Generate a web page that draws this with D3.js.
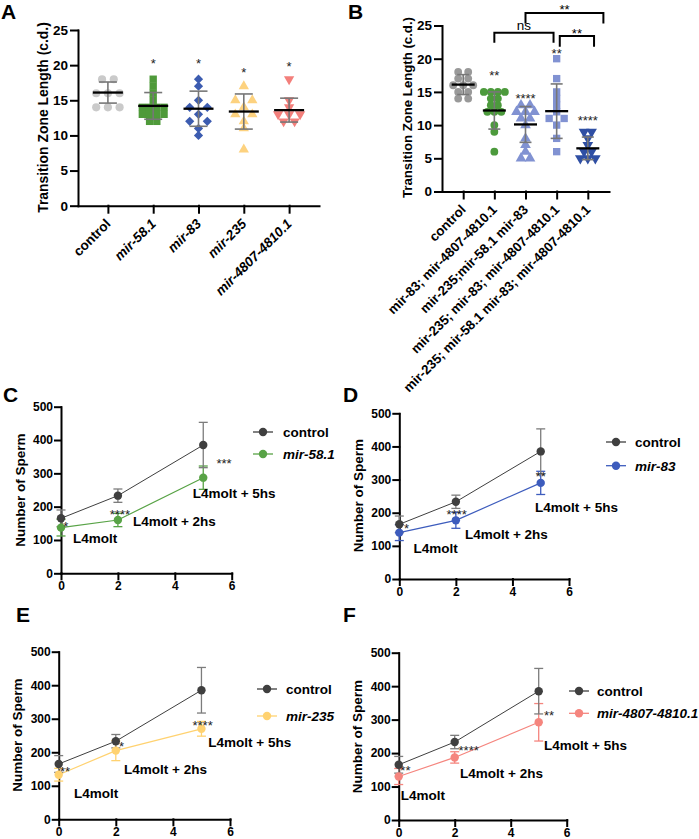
<!DOCTYPE html>
<html><head><meta charset="utf-8">
<script src="https://cdn.jsdelivr.net/npm/d3@7"></script>
<style>
body{margin:0;background:#fff;}
svg text{font-family:"Liberation Sans",Arial,Helvetica,sans-serif;}
</style>
</head><body>
<svg id="fig" width="699" height="839"></svg>
<script>
// ---------------- DATA ----------------
// Panel A: transition zone length (c.d.)
const A_categories = ["control","mir-58.1","mir-83","mir-235","mir-4807-4810.1"];
const A_control = [18,18,16,16,16,14,14,14];
const A_mir58 = [18,17,16,15,14,14,14,14,13,13,13,13,12,12];
const A_mir83 = [18,17,15,14,14,13,12,12,11,10];
const A_mir235 = [17,15,15,14,13,13,12,11,8];
const A_mir4807 = [18,15,14,13,13,13,12,12];
const A_mean = [16.1,14.2,13.8,13.4,13.6];
const A_sd = [1.5,1.9,2.5,2.5,1.7];
const A_sig = ["","*","*","*","*"];
const A_sigY = [0,20.6,20.6,19.4,20.3];
const A_yTicks = [0,5,10,15,20,25];

// Panel B
const B_categories = ["control","mir-83; mir-4807-4810.1","mir-235;mir-58.1 mir-83","mir-235; mir-83; mir-4807-4810.1","mir-235; mir-58.1 mir-83; mir-4807-4810.1"];
const B_control = [18,18,17,17,16,16,16,15,15,14,14];
const B_double = [15,15,15,15,14,14,13,13,12,12,12,10,9,6];
const B_tripleA = [13,13,12,12,12,11,11,10,8,7,6,5,5];
const B_tripleB = [20,17,15,14,13,12,11,11,10,8,6];
const B_quad = [9,9,8,7,6,6,5,5,5];
const B_mean = [16.1,12.2,10.1,12.1,6.5];
const B_sd = [1.5,2.8,2.7,4.1,1.7];
const B_sig = ["","**","****","**","****"];
const B_sigY = [0,18,14.5,21.2,11.1];
const B_yTicks = [0,5,10,15,20,25];
// comparisons: from / to (category index), label, bracket top and leg ends (c.d.)
const B_compFrom = [1,3.1,2];
const B_compTo = [2.9,4.2,4.5];
const B_compLabel = ["ns","**","**"];
const B_compTop = [23.9,23.4,26.9];
const B_compLeg = [22.4,21.8,25.3];

// Panels C-F: number of sperm over time (hours after L4 molt)
const hours = [0,2,5];
const timeLabels = ["L4molt","L4molt + 2hs","L4molt + 5hs"];
const xTicks = [0,2,4,6];
const yTicksSperm = [0,100,200,300,400,500];
const control_mean = [165,233,385];
const control_sd = [25,20,68];
const mir58_mean = [137,160,287];
const mir58_sd = [25,20,35];
const mir83_mean = [140,177,290];
const mir83_sd = [24,24,35];
const mir235_mean = [133,205,270];
const mir235_sd = [19,30,22];
const mir4807_mean = [130,187,292];
const mir4807_sd = [24,17,56];
const C_sig = ["*","****","***"];
const D_sig = ["*","****","**"];
const E_sig = ["**","*","****"];
const F_sig = ["**","****","**"];
// annotation anchors in data units (hours, count)
const C_sigAt = [[0.17,150],[2.07,185],[5.73,340]];
const D_sigAt = [[0.26,161],[2.03,203],[5.0,317]];
const E_sigAt = [[0.22,152],[2.2,225],[5.04,288]];
const F_sigAt = [[0.24,156],[2.5,217],[5.37,320]];
const C_timeAt = [[0.42,105],[2.53,158],[4.63,240]];
const D_timeAt = [[0.5,93],[2.32,136],[4.8,218]];
const E_timeAt = [[0.54,78],[2.29,150],[5.24,230]];
const F_timeAt = [[0.07,75],[2.19,141],[5.19,224]];

// ---------------- DRAWING ----------------
const svg = d3.select("#fig");

function styleAxis(g){
  g.selectAll("path,line").attr("stroke","#000").attr("stroke-width",2).attr("stroke-linecap","square");
  g.selectAll("text").attr("fill","#000").attr("font-weight","bold");
}

function panelLabel(t,x,y){
  svg.append("text").attr("x",x).attr("y",y).attr("font-size",21).attr("font-weight","bold").attr("fill","#000").text(t);
}

function yTitle(t,cx,cy,fs){
  svg.append("text").attr("transform",`translate(${cx},${cy}) rotate(-90)`)
    .attr("text-anchor","middle").attr("dy","0.36em").attr("font-size",fs).attr("font-weight","bold").attr("fill","#000").text(t);
}

function dotPanel(o){
  const g = svg.append("g");
  const y = d3.scaleLinear([0,25],[o.y0,o.yTop]);
  const x = d3.scalePoint(o.cats,[o.x0,o.x1]).padding(o.pad);
  const gy = g.append("g").attr("transform",`translate(${o.x0},0)`)
    .call(d3.axisLeft(y).tickValues(o.yTicks).tickFormat(d3.format("d")).tickSize(7).tickPadding(3).tickSizeOuter(0));
  gy.selectAll("text").attr("font-size",o.tickFs);
  styleAxis(gy);
  const gx = g.append("g").attr("transform",`translate(0,${o.y0})`)
    .call(d3.axisBottom(x).tickSize(7).tickSizeOuter(0));
  styleAxis(gx);
  gx.selectAll("text").attr("x",0).attr("y",0).attr("dy",0)
    .attr("transform","translate(3,19) rotate(-45)").attr("text-anchor","end")
    .attr("font-size",o.catFs)
    .attr("font-style",(d,i)=> (o.italic && i>0) ? "italic":"normal");
  o.groups.forEach((vals,gi)=>{
    const cnt = d3.rollup(vals,v=>v.length,d=>d);
    const seen = new Map();
    const sym = d3.symbol().type(o.symbols[gi]).size(o.sizes[gi]);
    vals.forEach(v=>{
      const n = cnt.get(v); const k = seen.get(v)||0; seen.set(v,k+1);
      const off = (k-(n-1)/2)*o.spacing[gi];
      g.append("path").attr("d",sym())
        .attr("transform",`translate(${x(o.cats[gi])+off},${y(v)})${o.flip[gi]?" rotate(180)":""}`)
        .attr("fill",o.colors[gi]);
    });
    const cx = x(o.cats[gi]);
    const lo = y(o.mean[gi]-o.sd[gi]), hi = y(o.mean[gi]+o.sd[gi]);
    g.append("line").attr("x1",cx).attr("x2",cx).attr("y1",lo).attr("y2",hi).attr("stroke","#777").attr("stroke-width",1.6);
    [lo,hi].forEach(yy=>g.append("line").attr("x1",cx-o.capW/2).attr("x2",cx+o.capW/2).attr("y1",yy).attr("y2",yy).attr("stroke","#777").attr("stroke-width",1.6));
    g.append("line").attr("x1",cx-o.meanW/2).attr("x2",cx+o.meanW/2).attr("y1",y(o.mean[gi])).attr("y2",y(o.mean[gi])).attr("stroke","#000").attr("stroke-width",2.3);
    if(o.sig[gi]){
      g.append("text").attr("x",cx).attr("y",y(o.sigY[gi])).attr("dy","0.58em")
        .attr("text-anchor","middle").attr("font-size",13).attr("fill","#222").text(o.sig[gi]);
    }
  });
  return {x,y,g};
}

// Panel A
panelLabel("A",1,18.5);
yTitle("Transition Zone Length  (c.d.)",42.5,117.5,13.9);
dotPanel({
  cats:A_categories, groups:[A_control,A_mir58,A_mir83,A_mir235,A_mir4807],
  mean:A_mean, sd:A_sd, sig:A_sig, sigY:A_sigY, yTicks:A_yTicks,
  x0:78, x1:319, y0:205.7, yTop:30, pad:0.66, tickFs:13.5, catFs:13.5, italic:true,
  colors:["#cacaca","#4f9a3a","#3c5cb0","#fdd27f","#f37f7b"],
  symbols:[d3.symbolCircle,d3.symbolSquare,d3.symbolDiamond2,d3.symbolTriangle,d3.symbolTriangle],
  flip:[false,false,false,false,true],
  sizes:[52,54,54,46,46], spacing:[11.7,7.25,17.6,17,11],
  meanW:30, capW:18
});

// Panel B
panelLabel("B",348,18.5);
yTitle("Transition Zone Length  (c.d.)",407,107.5,13.2);
const pb = dotPanel({
  cats:B_categories, groups:[B_control,B_double,B_tripleA,B_tripleB,B_quad],
  mean:B_mean, sd:B_sd, sig:B_sig, sigY:B_sigY, yTicks:B_yTicks,
  x0:442, x1:609, y0:191.5, yTop:25.5, pad:0.68, tickFs:13.5, catFs:13.3, italic:false,
  colors:["#999999","#4c9a3c","#8192d2","#8192d2","#2f4fa4"],
  symbols:[d3.symbolCircle,d3.symbolCircle,d3.symbolTriangle,d3.symbolSquare,d3.symbolTriangle],
  flip:[false,false,false,false,true],
  sizes:[48,48,50,54,50], spacing:[10,7,9,15,7.5],
  meanW:23, capW:12
});
{
  const step = pb.x.step();
  const bx = i => pb.x(B_categories[0]) + i*step;
  B_compFrom.forEach((f,i)=>{
    const xa = bx(f), xb = bx(B_compTo[i]);
    const yt = pb.y(B_compTop[i]), yl = pb.y(B_compLeg[i]);
    pb.g.append("path").attr("d",`M${xa},${yl}V${yt}H${xb}V${yl}`)
      .attr("fill","none").attr("stroke","#000").attr("stroke-width",2);
    const lab = pb.g.append("text").attr("x",(xa+xb)/2).attr("text-anchor","middle")
      .attr("fill","#000").attr("font-size",13).text(B_compLabel[i]);
    if(B_compLabel[i]==="ns") lab.attr("y",yt-2.5).attr("font-size",13.5);
    else lab.attr("y",yt+1.5);
  });
}

// Line panels
function linePanel(o){
  const g = svg.append("g");
  const x = d3.scaleLinear([0,6],[o.x0,o.x1]);
  const y = d3.scaleLinear([0,500],[o.yb,o.yt]);
  const gy = g.append("g").attr("transform",`translate(${o.x0},0)`)
    .call(d3.axisLeft(y).tickValues(yTicksSperm).tickFormat(d3.format("d")).tickSize(6).tickPadding(2).tickSizeOuter(0));
  gy.selectAll("text").attr("font-size",12);
  styleAxis(gy);
  const gx = g.append("g").attr("transform",`translate(0,${o.yb})`)
    .call(d3.axisBottom(x).tickValues(xTicks).tickFormat(d3.format("d")).tickSize(6).tickPadding(2).tickSizeOuter(0));
  gx.selectAll("text").attr("font-size",12);
  styleAxis(gx);

  const series = [
    {m:o.mean, s:o.sd, c:o.color, ec:o.color, lw:1.2},
    {m:control_mean, s:control_sd, c:"#3f3f3f", ec:"#7c7c7c", lw:1}
  ];
  const line = d3.line().x((d,i)=>x(hours[i])).y(d=>y(d));
  series.forEach(se=>{
    g.append("path").attr("d",line(se.m)).attr("fill","none").attr("stroke",se.c).attr("stroke-width",se.lw);
  });
  series.forEach(se=>{
    se.m.forEach((v,i)=>{
      const cx = x(hours[i]), lo = y(v-se.s[i]), hi = y(v+se.s[i]);
      g.append("line").attr("x1",cx).attr("x2",cx).attr("y1",lo).attr("y2",hi).attr("stroke",se.ec).attr("stroke-width",1.3);
      [lo,hi].forEach(yy=>g.append("line").attr("x1",cx-4.5).attr("x2",cx+4.5).attr("y1",yy).attr("y2",yy).attr("stroke",se.ec).attr("stroke-width",1.3));
    });
  });
  series.forEach(se=>{
    se.m.forEach((v,i)=>{
      g.append("circle").attr("cx",x(hours[i])).attr("cy",y(v)).attr("r",4.2).attr("fill",se.c);
    });
  });
  o.sig.forEach((s,i)=>{
    g.append("text").attr("x",x(o.sigAt[i][0])).attr("y",y(o.sigAt[i][1])).attr("dy","0.58em")
      .attr("text-anchor","middle").attr("font-size",13).attr("fill","#222").text(s);
  });
  timeLabels.forEach((t,i)=>{
    g.append("text").attr("x",x(o.timeAt[i][0])).attr("y",y(o.timeAt[i][1])).attr("dy","0.36em")
      .attr("font-size",13.5).attr("font-weight","bold").attr("fill","#000").text(t);
  });
  const leg = [{t:"control",c:"#3f3f3f",it:false},{t:o.name,c:o.color,it:true}];
  leg.forEach((l,i)=>{
    const ly = o.legY[i];
    g.append("line").attr("x1",o.legX).attr("x2",o.legX+20).attr("y1",ly).attr("y2",ly).attr("stroke",l.c).attr("stroke-width",1.3);
    g.append("circle").attr("cx",o.legX+10).attr("cy",ly).attr("r",4.2).attr("fill",l.c);
    g.append("text").attr("x",o.legTx).attr("y",ly).attr("dy","0.36em").attr("font-size",13.5)
      .attr("font-weight","bold").attr("fill","#000").attr("font-style",l.it?"italic":"normal").text(l.t);
  });
}

panelLabel("C",3,401.7);
yTitle("Number of Sperm",20,490,13.5);
linePanel({x0:61,x1:231.7,yb:573.3,yt:406.7,mean:mir58_mean,sd:mir58_sd,color:"#58a346",name:"mir-58.1",
  sig:C_sig,sigAt:C_sigAt,timeAt:C_timeAt,legX:253,legY:[432,454],legTx:283});

panelLabel("D",343,401.7);
yTitle("Number of Sperm",358.3,495.7,13.5);
linePanel({x0:399.3,x1:569,yb:579,yt:413.3,mean:mir83_mean,sd:mir83_sd,color:"#3d5cbd",name:"mir-83",
  sig:D_sig,sigAt:D_sigAt,timeAt:D_timeAt,legX:606,legY:[442,465.7],legTx:635});

panelLabel("E",16,621.7);
yTitle("Number of Sperm",16.7,735,13.5);
linePanel({x0:58.7,x1:230,yb:819.3,yt:651.7,mean:mir235_mean,sd:mir235_sd,color:"#ffd270",name:"mir-235",
  sig:E_sig,sigAt:E_sigAt,timeAt:E_timeAt,legX:257,legY:[689,716],legTx:286});

panelLabel("F",343,621.7);
yTitle("Number of Sperm",356.7,736.7,13.5);
linePanel({x0:398.7,x1:566.7,yb:820,yt:652.7,mean:mir4807_mean,sd:mir4807_sd,color:"#f5857e",name:"mir-4807-4810.1",
  sig:F_sig,sigAt:F_sigAt,timeAt:F_timeAt,legX:569,legY:[691,713.3],legTx:597});
</script>
</body></html>
